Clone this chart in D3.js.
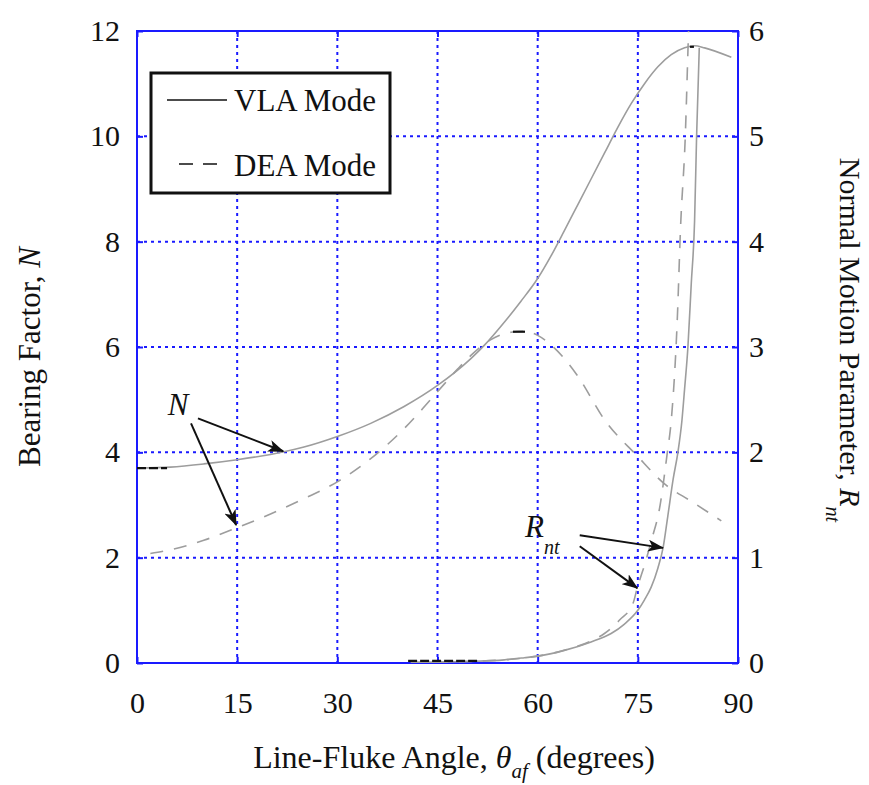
<!DOCTYPE html>
<html>
<head>
<meta charset="utf-8">
<script src="https://cdn.jsdelivr.net/npm/d3@7"></script>
<style>
  html, body { margin: 0; padding: 0; background: #fff; }
  svg text { font-family: "Liberation Serif", "Times New Roman", serif; fill: #111; }
</style>
</head>
<body>
<svg id="chart" width="869" height="785"></svg>
<script>
// Bearing factor N (left axis) for the two anchor modes
const angleVlaN = [0, 5, 10, 15, 20, 22, 25, 30, 35, 40, 45, 50, 52, 55, 57.5, 60, 62, 64, 66, 68, 70, 72, 74, 76, 78, 80, 82, 83.5, 85, 89];
const vlaN      = [3.70, 3.72, 3.78, 3.86, 3.96, 4.01, 4.10, 4.30, 4.55, 4.87, 5.27, 5.78, 6.03, 6.47, 6.87, 7.30, 7.73, 8.21, 8.70, 9.19, 9.68, 10.17, 10.62, 11.0, 11.32, 11.55, 11.68, 11.72, 11.68, 11.5];

const angleDeaN = [2, 5, 10, 15, 20, 25, 30, 35, 40, 42, 45, 48, 50, 53, 56, 58, 60, 62, 64, 66, 70, 75, 79, 83, 87.5];
const deaN      = [2.08, 2.15, 2.33, 2.57, 2.83, 3.12, 3.44, 3.88, 4.45, 4.72, 5.15, 5.58, 5.84, 6.14, 6.28, 6.30, 6.22, 6.04, 5.78, 5.45, 4.62, 3.92, 3.40, 3.07, 2.70];

// Normal motion parameter R_nt (right axis)
const angleVlaR = [41, 45, 50, 55, 58, 60, 64, 68, 71, 73, 75, 76, 77, 78, 78.8, 79.5, 80.3, 81.0, 81.6, 82.0, 82.5, 83.0, 83.5, 83.8, 84.2];
const vlaR      = [0.005, 0.008, 0.015, 0.03, 0.05, 0.065, 0.12, 0.2, 0.28, 0.37, 0.5, 0.6, 0.72, 0.9, 1.1, 1.4, 1.75, 2.0, 2.3, 2.6, 3.0, 3.6, 4.2, 5.0, 5.84];

const angleDeaR = [41, 45, 50, 55, 60, 65, 68, 70, 72.3, 74.3, 74.9, 76.1, 77.2, 78.2, 79.4, 80.0, 80.9, 81.4, 82.1, 82.6, 82.9];
const deaR      = [0.005, 0.008, 0.015, 0.03, 0.065, 0.14, 0.21, 0.28, 0.41, 0.57, 0.71, 0.95, 1.2, 1.45, 1.99, 2.3, 3.25, 4.14, 4.99, 6.0, 6.5];

// Short dark segments left on the curves by the plotting tool
const darkSegAngles = [[0, 4.5], [56.3, 58.1], [40.6, 51], [82.8, 83.4]];
const darkSegValues = [3.70, 6.29, 0.02, 11.7];
const darkSegAxis   = ["N", "N", "R", "N"];

// Tick labels
const xTicks = [0, 15, 30, 45, 60, 75, 90];
const nTicks = [0, 2, 4, 6, 8, 10, 12];
const rTicks = [0, 1, 2, 3, 4, 5, 6];

const svg = d3.select("#chart");
const L = 137, R = 738, T = 31, B = 663;

const x  = d3.scaleLinear().domain([0, 90]).range([L, R]);
const yN = d3.scaleLinear().domain([0, 12]).range([B, T]);
const yR = d3.scaleLinear().domain([0, 6]).range([B, T]);

const blue = "#1a1aff";
const fontSize = 30;

// grid
const grid = svg.append("g");
grid.selectAll(".gx").data(xTicks.slice(1, -1)).join("line")
  .attr("x1", d => x(d)).attr("x2", d => x(d)).attr("y1", T).attr("y2", B)
  .attr("stroke", blue).attr("stroke-width", 2).attr("stroke-dasharray", "3,4");
grid.selectAll(".gy").data(nTicks.slice(1, -1)).join("line")
  .attr("y1", d => yN(d)).attr("y2", d => yN(d)).attr("x1", L).attr("x2", R)
  .attr("stroke", blue).attr("stroke-width", 2).attr("stroke-dasharray", "3,4");

// axes (inward ticks, labels outside)
function styleAxis(g) {
  g.select(".domain").remove();
  g.selectAll(".tick line").attr("stroke", blue).attr("stroke-width", 2);
  g.selectAll(".tick text").attr("font-size", fontSize)
    .attr("font-family", "Liberation Serif, Times New Roman, serif").attr("fill", "#111");
}
svg.append("g").attr("transform", `translate(0,${B})`)
  .call(d3.axisBottom(x).tickValues(xTicks).tickSize(-6).tickPadding(29).tickFormat(d3.format("d")))
  .call(styleAxis);
svg.append("g").attr("transform", `translate(0,${T})`)
  .call(d3.axisTop(x).tickValues(xTicks).tickSize(-6).tickFormat(""))
  .call(styleAxis);
svg.append("g").attr("transform", `translate(${L},0)`)
  .call(d3.axisLeft(yN).tickValues(nTicks).tickSize(-6).tickPadding(17).tickFormat(d3.format("d")))
  .call(styleAxis);
svg.append("g").attr("transform", `translate(${R},0)`)
  .call(d3.axisRight(yR).tickValues(rTicks).tickSize(-6).tickPadding(11).tickFormat(d3.format("d")))
  .call(styleAxis);

svg.append("rect").attr("x", L).attr("y", T).attr("width", R - L).attr("height", B - T)
  .attr("fill", "none").attr("stroke", blue).attr("stroke-width", 2);

// curves
svg.append("clipPath").attr("id", "plotClip")
  .append("rect").attr("x", L).attr("y", T).attr("width", R - L).attr("height", B - T);
const plot = svg.append("g").attr("clip-path", "url(#plotClip)");

const lineN = d3.line().x(d => x(d[0])).y(d => yN(d[1])).curve(d3.curveMonotoneX);
const lineR = d3.line().x(d => x(d[0])).y(d => yR(d[1])).curve(d3.curveMonotoneX);
const grey = "#9d9d9d";

function series(a, v) { return a.map((d, i) => [d, v[i]]); }

plot.append("path").attr("d", lineN(series(angleVlaN, vlaN)))
  .attr("fill", "none").attr("stroke", grey).attr("stroke-width", 1.6);
plot.append("path").attr("d", lineN(series(angleDeaN, deaN)))
  .attr("fill", "none").attr("stroke", grey).attr("stroke-width", 1.6).attr("stroke-dasharray", "13,11");
plot.append("path").attr("d", lineR(series(angleVlaR, vlaR)))
  .attr("fill", "none").attr("stroke", grey).attr("stroke-width", 1.6);
plot.append("path").attr("d", lineR(series(angleDeaR, deaR)))
  .attr("fill", "none").attr("stroke", grey).attr("stroke-width", 1.6).attr("stroke-dasharray", "13,11");

darkSegAngles.forEach((s, i) => {
  const yy = darkSegAxis[i] === "N" ? yN(darkSegValues[i]) : yR(darkSegValues[i]);
  plot.append("line").attr("x1", x(s[0])).attr("x2", x(s[1])).attr("y1", yy).attr("y2", yy)
    .attr("stroke", "#111").attr("stroke-width", 2.2)
    .attr("stroke-dasharray", i === 1 || i === 3 ? null : "9,3");
});

// annotation arrows
const defs = svg.append("defs");
defs.append("marker").attr("id", "arrowHead").attr("viewBox", "0 0 16 12")
  .attr("refX", 15).attr("refY", 6).attr("markerWidth", 16).attr("markerHeight", 12)
  .attr("markerUnits", "userSpaceOnUse").attr("orient", "auto")
  .append("path").attr("d", "M0,0 L16,6 L0,12 L4,6 Z").attr("fill", "#111");

const nArrows = [[[9.13, 4.645], [21.9, 4.02]], [[8.09, 4.55], [14.85, 2.62]]];
const rArrows = [[[66.3, 1.213], [78.77, 1.093]], [[66.3, 1.109], [74.93, 0.711]]];
nArrows.forEach(a => svg.append("line")
  .attr("x1", x(a[0][0])).attr("y1", yN(a[0][1])).attr("x2", x(a[1][0])).attr("y2", yN(a[1][1]))
  .attr("stroke", "#111").attr("stroke-width", 2).attr("marker-end", "url(#arrowHead)"));
rArrows.forEach(a => svg.append("line")
  .attr("x1", x(a[0][0])).attr("y1", yR(a[0][1])).attr("x2", x(a[1][0])).attr("y2", yR(a[1][1]))
  .attr("stroke", "#111").attr("stroke-width", 2).attr("marker-end", "url(#arrowHead)"));

svg.append("text").attr("x", x(4.6)).attr("y", yN(4.7)).attr("font-size", 31)
  .attr("font-style", "italic").text("N");
const rLab = svg.append("text").attr("x", x(58.1)).attr("y", yR(1.2)).attr("font-size", 31).attr("font-style", "italic");
rLab.append("tspan").text("R");
rLab.append("tspan").attr("dy", 17).attr("font-size", 20).text("nt");

// legend
const lg = svg.append("g");
lg.append("rect").attr("x", 151).attr("y", 73).attr("width", 239).attr("height", 120)
  .attr("fill", "#fff").attr("stroke", "#111").attr("stroke-width", 3);
lg.append("line").attr("x1", 167).attr("x2", 227).attr("y1", 100).attr("y2", 100)
  .attr("stroke", "#111").attr("stroke-width", 1.5);
lg.append("line").attr("x1", 179).attr("x2", 227).attr("y1", 164).attr("y2", 164)
  .attr("stroke", "#111").attr("stroke-width", 1.5).attr("stroke-dasharray", "14,10");
lg.append("text").attr("x", 234).attr("y", 111).attr("font-size", 31).text("VLA Mode");
lg.append("text").attr("x", 234).attr("y", 176).attr("font-size", 31).text("DEA Mode");

// axis titles
const xt = svg.append("text").attr("x", 454).attr("y", 768).attr("text-anchor", "middle").attr("font-size", 32);
xt.append("tspan").text("Line-Fluke Angle, ");
xt.append("tspan").attr("font-style", "italic").text("θ");
xt.append("tspan").attr("font-style", "italic").attr("font-size", 21).attr("dy", 10).text("af");
xt.append("tspan").attr("dy", -10).text(" (degrees)");

const yt = svg.append("text").attr("transform", "translate(40,357) rotate(-90)")
  .attr("text-anchor", "middle").attr("font-size", 31);
yt.append("tspan").text("Bearing Factor, ");
yt.append("tspan").attr("font-style", "italic").text("N");

const rt = svg.append("text").attr("transform", "translate(840,340) rotate(90)")
  .attr("text-anchor", "middle").attr("font-size", 30);
rt.append("tspan").text("Normal Motion Parameter, ");
rt.append("tspan").attr("font-style", "italic").text("R");
rt.append("tspan").attr("font-style", "italic").attr("font-size", 20).attr("dy", 14).text("nt");
</script>
</body>
</html>
